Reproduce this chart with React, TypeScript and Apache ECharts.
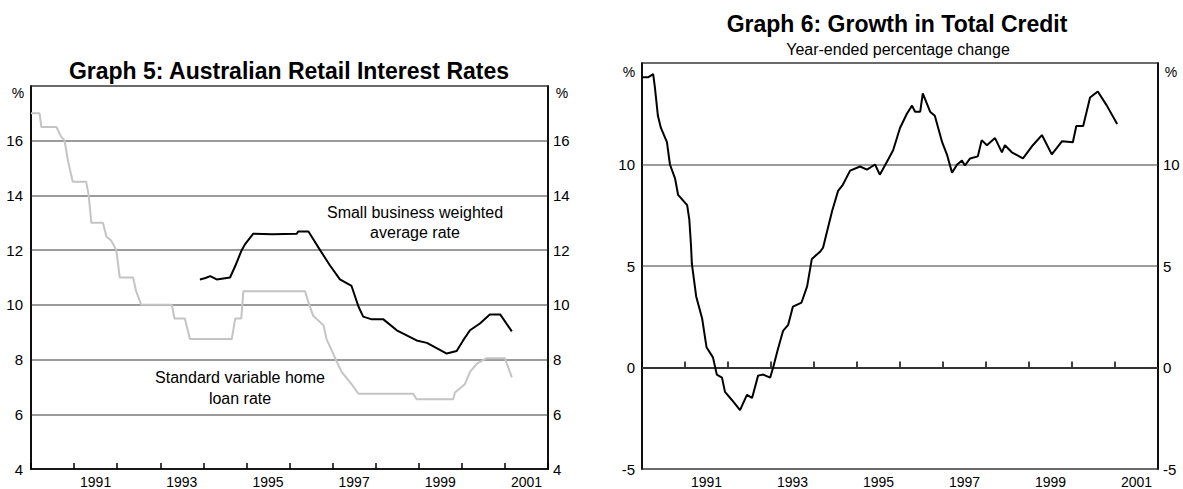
import React, { useEffect, useRef } from "react";
import * as echarts from "echarts";

// Graph 5: standard variable home loan rate (grey)
const svrYears = [
  1990.0, 1990.2, 1990.24, 1990.59, 1990.7, 1990.78, 1990.86, 1990.97, 1991.28, 1991.34,
  1991.4, 1991.67, 1991.75, 1991.86, 1991.98, 1992.06, 1992.37, 1992.44, 1992.56, 1993.27,
  1993.33, 1993.57, 1993.69, 1994.66, 1994.74, 1994.88, 1994.93, 1996.36, 1996.44, 1996.55,
  1996.79, 1996.86, 1997.06, 1997.21, 1997.44, 1997.6, 1998.87, 1998.95, 1999.8, 1999.84,
  2000.07, 2000.19, 2000.35, 2000.58, 2001.0, 2001.16,
];
const svrRates = [
  17.0, 17.0, 16.5, 16.5, 16.15, 16.0, 15.25, 14.5, 14.5, 14.0,
  13.0, 13.0, 12.5, 12.35, 12.0, 11.0, 11.0, 10.5, 10.0, 10.0,
  9.5, 9.5, 8.75, 8.75, 9.5, 9.5, 10.5, 10.5, 10.1, 9.6,
  9.25, 8.75, 8.05, 7.55, 7.1, 6.75, 6.75, 6.55, 6.55, 6.8,
  7.1, 7.55, 7.85, 8.05, 8.05, 7.35,
];

// Graph 5: small business weighted average rate (black)
const sbYears = [
  1993.92, 1994.05, 1994.16, 1994.31, 1994.62, 1994.74, 1994.89, 1994.97, 1995.16, 1995.6,
  1996.17, 1996.2, 1996.44, 1996.71, 1996.94, 1997.17, 1997.44, 1997.6, 1997.71, 1997.91,
  1998.18, 1998.49, 1998.95, 1999.19, 1999.65, 1999.88, 2000.03, 2000.19, 2000.42, 2000.65,
  2000.89, 2001.16,
];
const sbRates = [
  10.93, 10.98, 11.05, 10.93, 11.0, 11.42, 12.0, 12.22, 12.6, 12.58,
  12.6, 12.68, 12.68, 12.0, 11.44, 10.93, 10.69, 9.94, 9.57, 9.47,
  9.47, 9.07, 8.7, 8.61, 8.22, 8.31, 8.7, 9.07, 9.32, 9.65,
  9.65, 9.03,
];

// Graph 6: growth in total credit, year-ended % change
const creditYears = [
  1990.0, 1990.15, 1990.26, 1990.3, 1990.37, 1990.44, 1990.58, 1990.65, 1990.77, 1990.84,
  1991.05, 1991.1, 1991.14, 1991.16, 1991.26, 1991.4, 1991.5, 1991.65, 1991.74, 1991.86,
  1991.93, 1992.09, 1992.28, 1992.44, 1992.56, 1992.7, 1992.82, 1992.98, 1993.05, 1993.16,
  1993.28, 1993.4, 1993.51, 1993.71, 1993.84, 1993.95, 1994.14, 1994.21, 1994.42, 1994.56,
  1994.67, 1994.84, 1995.07, 1995.23, 1995.42, 1995.53, 1995.7, 1995.84, 1996.0, 1996.16,
  1996.28, 1996.35, 1996.47, 1996.53, 1996.7, 1996.81, 1996.98, 1997.09, 1997.21, 1997.33,
  1997.44, 1997.51, 1997.63, 1997.81, 1997.9, 1998.02, 1998.21, 1998.37, 1998.44, 1998.6,
  1998.86, 1999.09, 1999.3, 1999.53, 1999.77, 2000.02, 2000.1, 2000.26, 2000.42, 2000.6,
  2000.81, 2001.05,
];
const creditGrowth = [
  14.3, 14.3, 14.45, 13.8, 12.4, 11.8, 11.1, 10.0, 9.3, 8.5,
  8.0, 7.3, 6.0, 5.1, 3.5, 2.4, 1.0, 0.5, -0.35, -0.5,
  -1.2, -1.6, -2.1, -1.35, -1.5, -0.4, -0.35, -0.5, 0.0, 0.9,
  1.8, 2.1, 3.0, 3.2, 4.0, 5.35, 5.7, 5.9, 7.7, 8.7,
  9.0, 9.7, 9.9, 9.75, 10.0, 9.5, 10.15, 10.7, 11.8, 12.5,
  12.9, 12.6, 12.6, 13.5, 12.6, 12.4, 11.1, 10.5, 9.6, 10.0,
  10.2, 9.95, 10.3, 10.4, 11.2, 10.95, 11.3, 10.6, 10.95, 10.6,
  10.3, 10.95, 11.45, 10.5, 11.15, 11.1, 11.9, 11.9, 13.3, 13.6,
  12.9, 12.0,
];

const FONT = "'Liberation Sans', Arial, sans-serif";

const zip = (xs: number[], ys: number[]) => xs.map((x, i) => [x, ys[i]]);

function tickAxis(gridIndex: number) {
  return {
    type: "value",
    gridIndex,
    min: 1990,
    max: 2002,
    interval: 1,
    axisLine: { show: true, lineStyle: { color: "#000", width: 1.5 } },
    axisTick: { show: true, inside: true, length: 6, lineStyle: { color: "#000", width: 1.5 } },
    axisLabel: { show: false },
    splitLine: { show: false },
  };
}

function labelAxis(gridIndex: number) {
  return {
    type: "value",
    gridIndex,
    min: 1990,
    max: 2002,
    interval: 0.5,
    position: "bottom",
    axisLine: { show: false },
    axisTick: { show: false },
    splitLine: { show: false },
    axisLabel: {
      show: true,
      margin: 6,
      color: "#000",
      fontFamily: FONT,
      fontSize: 14,
      formatter: (v: number) => {
        const f = Math.floor(v);
        return Math.abs(v - f - 0.5) < 1e-6 && f % 2 === 1 ? String(f) : "";
      },
    },
  };
}

function yAxis(gridIndex: number, min: number, max: number, interval: number, position: string, split: boolean, margin: number) {
  return {
    type: "value",
    gridIndex,
    min,
    max,
    interval,
    position,
    axisLine: { show: true, lineStyle: { color: "#000", width: 1.5 } },
    axisTick: { show: false },
    axisLabel: {
      color: "#000",
      fontFamily: FONT,
      fontSize: 15,
      margin,
      formatter: (v: number) => (v === max ? "" : String(v)),
    },
    splitLine: { show: split, lineStyle: { color: "#7a7a7a", width: 1.5 } },
  };
}

const txt = (text: string, x: number, y: number, size: number, bold = false) => ({
  type: "text",
  x,
  y,
  style: {
    text,
    fill: "#000",
    font: `${bold ? "bold " : ""}${size}px ${FONT}`,
    textAlign: "center",
    textVerticalAlign: "middle",
  },
});

export default function App() {
  const ref = useRef<HTMLDivElement>(null);
  useEffect(() => {
    if (!ref.current) return;
    const chart = echarts.init(ref.current, undefined, { renderer: "svg" });
    chart.setOption({
      animation: false,
      backgroundColor: "#fff",
      grid: [
        { left: 31, top: 86, width: 517, bottom: 20, show: true, borderColor: "#000", borderWidth: 1.5, backgroundColor: "transparent" },
        { left: 642, top: 63, width: 516, bottom: 20, show: true, borderColor: "#000", borderWidth: 1.5, backgroundColor: "transparent" },
      ],
      xAxis: [tickAxis(0), labelAxis(0), tickAxis(1), labelAxis(1)],
      yAxis: [
        yAxis(0, 4, 18, 2, "left", true, 8),
        yAxis(0, 4, 18, 2, "right", false, 5),
        yAxis(1, -5, 15, 5, "left", true, 7),
        yAxis(1, -5, 15, 5, "right", false, 5),
      ],
      series: [
        {
          type: "line",
          xAxisIndex: 0,
          yAxisIndex: 0,
          data: zip(svrYears, svrRates),
          showSymbol: false,
          lineStyle: { color: "#c4c4c4", width: 2 },
          z: 3,
        },
        {
          type: "line",
          xAxisIndex: 0,
          yAxisIndex: 0,
          data: zip(sbYears, sbRates),
          showSymbol: false,
          lineStyle: { color: "#000", width: 2 },
          z: 4,
        },
        {
          type: "line",
          xAxisIndex: 2,
          yAxisIndex: 2,
          data: zip(creditYears, creditGrowth),
          showSymbol: false,
          lineStyle: { color: "#000", width: 2 },
          z: 4,
          markLine: {
            silent: true,
            symbol: "none",
            label: { show: false },
            lineStyle: { color: "#333", width: 2, type: "solid" },
            data: [{ yAxis: 0 }],
            z: 2,
          },
        },
      ],
      graphic: [
        txt("Graph 5: Australian Retail Interest Rates", 289, 71, 23, true),
        txt("Graph 6: Growth in Total Credit", 897, 24, 23, true),
        txt("Year-ended percentage change", 898, 49, 16),
        txt("%", 18, 93, 14),
        txt("%", 562, 93, 14),
        txt("%", 629, 72, 14),
        txt("%", 1171, 72, 14),
        txt("Small business weighted", 415, 212, 16),
        txt("average rate", 415, 232, 16),
        txt("Standard variable home", 240, 377, 16),
        txt("loan rate", 240, 398, 16),
      ],
    });
    return () => chart.dispose();
  }, []);
  return (
    <div
      ref={ref}
      style={{ position: "absolute", left: 0, top: 0, width: 1183, height: 489, background: "#fff" }}
    />
  );
}
